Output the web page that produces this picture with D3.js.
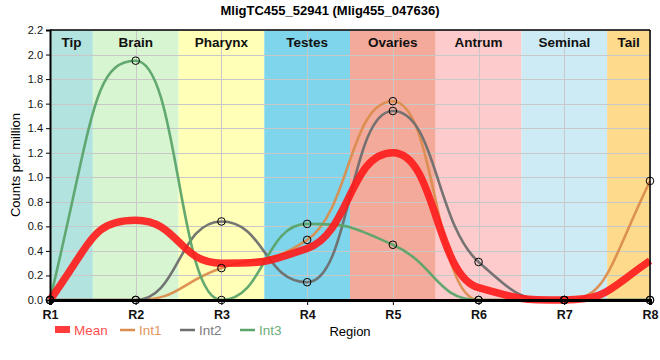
<!DOCTYPE html>
<html><head><meta charset="utf-8">
<script src="https://cdn.jsdelivr.net/npm/d3@7"></script>
<style>body{margin:0;background:#fff}svg{display:block}</style>
</head><body>
<svg id="c" width="660" height="360"></svg>
<script>
const regions = ["R1","R2","R3","R4","R5","R6","R7","R8"];
const bandNames = ["Tip","Brain","Pharynx","Testes","Ovaries","Antrum","Seminal","Tail"];
const bandColors = ["#b3e3df","#d7f5d0","#ffffb8","#7fd5ec","#f4aa9b","#fdcbcb","#cdebf5","#fdda8c"];
const meanVals = [0, 0.65, 0.30, 0.42, 1.20, 0.10, 0, 0.32];
const int1 = [0, 0, 0.26, 0.49, 1.62, 0, 0, 0.97];
const int2 = [0, 0, 0.64, 0.145, 1.54, 0.31, 0, 0];
const int3 = [0, 1.95, 0, 0.62, 0.45, 0, 0, 0];
const yTicks = [0,0.2,0.4,0.6,0.8,1.0,1.2,1.4,1.6,1.8,2.0,2.2];

// monotone cubic curve with wider control handles (flat plateaus at extrema)
function BroadMonotone(context){ this._context = context; }
BroadMonotone.prototype = {
  areaStart(){ this._line = 0; }, areaEnd(){ this._line = NaN; },
  lineStart(){ this._x = []; this._y = []; },
  point(x, y){ this._x.push(+x); this._y.push(+y); },
  lineEnd(){
    const X = this._x, Y = this._y, n = X.length, c = this._context;
    if (!n) return;
    if (this._line || this._line === 0 && n === 1) c.lineTo(X[0], Y[0]); else c.moveTo(X[0], Y[0]);
    if (n === 2) c.lineTo(X[1], Y[1]);
    if (n > 2) {
      const s = [], t = new Array(n);
      for (let i = 0; i < n - 1; i++) s.push((Y[i+1]-Y[i])/(X[i+1]-X[i]));
      for (let i = 1; i < n - 1; i++) {
        const h0 = X[i]-X[i-1], h1 = X[i+1]-X[i], s0 = s[i-1], s1 = s[i];
        if (s0*s1 <= 0) { t[i] = 0; continue; }
        const p = (s0*h1 + s1*h0)/(h0+h1);
        t[i] = (Math.sign(s0)+Math.sign(s1))*Math.min(Math.abs(s0), Math.abs(s1), 0.5*Math.abs(p));
      }
      t[0] = (3*s[0] - t[1])/2;
      t[n-1] = (3*s[n-2] - t[n-2])/2;
      const k = 0.5;
      for (let i = 0; i < n - 1; i++) {
        const dx = (X[i+1]-X[i])*k;
        c.bezierCurveTo(X[i]+dx, Y[i]+t[i]*dx, X[i+1]-dx, Y[i+1]-t[i+1]*dx, X[i+1], Y[i+1]);
      }
    }
    this._line = 1 - this._line;
  }
};
const curveBroad = ctx => new BroadMonotone(ctx);

const svg = d3.select("#c");
const L=50,R=650,T=30,B=300;
const x = d3.scalePoint().domain(regions).range([L,R]);
const xi = d3.scaleLinear().domain([0,regions.length-1]).range([L,R]);
const y = d3.scaleLinear().domain([0,2.2]).range([B,T]);
const font = "'Liberation Sans', Arial, sans-serif";

// bands
const bands = svg.append("g");
bandNames.forEach((n,i)=>{
  const x0 = Math.max(L, xi(i-0.5)), x1 = Math.min(R, xi(i+0.5));
  bands.append("rect").attr("x",x0).attr("y",T).attr("width",x1-x0).attr("height",B-T).attr("fill",bandColors[i]);
});
// grid
const grid = svg.append("g").attr("stroke","#c8c8c8").attr("stroke-width",1);
yTicks.forEach(t=>grid.append("line").attr("x1",L).attr("x2",R).attr("y1",Math.round(y(t))+0.5).attr("y2",Math.round(y(t))+0.5));
regions.forEach(r=>grid.append("line").attr("x1",Math.round(x(r))+0.5).attr("x2",Math.round(x(r))+0.5).attr("y1",T).attr("y2",B));
// band labels
bandNames.forEach((n,i)=>{
  const x0 = Math.max(L, xi(i-0.5)), x1 = Math.min(R, xi(i+0.5));
  svg.append("text").attr("x",(x0+x1)/2).attr("y",47).attr("text-anchor","middle")
    .attr("font-family",font).attr("font-weight","bold").attr("font-size",13.5).attr("fill","#111").text(n);
});

const line = d3.line().x((d,i)=>xi(i)).y(d=>y(d)).curve(curveBroad);
const series = [
  {name:"Int1", vals:int1, color:"#db8d4e"},
  {name:"Int2", vals:int2, color:"#6e6e6e"},
  {name:"Int3", vals:int3, color:"#5ba46a"}
];
series.forEach(s=>{
  svg.append("path").attr("d",line(s.vals)).attr("fill","none").attr("stroke",s.color).attr("stroke-width",2.6).attr("opacity",0.95);
});
svg.append("path").attr("d",line(meanVals)).attr("fill","none").attr("stroke","#ff1a1a").attr("stroke-width",7.5).attr("opacity",0.9);

// axes
const yAxis = d3.axisLeft(y).tickValues(yTicks).tickFormat(d3.format(".1f")).tickSize(4);
const gy = svg.append("g").attr("transform",`translate(${L},0)`).call(yAxis);
gy.select(".domain").attr("stroke","#000").attr("stroke-width",2);
gy.selectAll("text").attr("font-family",font).attr("font-size",11).attr("fill","#111");
const xAxis = d3.axisBottom(x).tickSize(5);
const gx = svg.append("g").attr("transform",`translate(0,${B})`).call(xAxis);
gx.select(".domain").attr("stroke","#000").attr("stroke-width",3);
gx.selectAll("text").attr("font-family",font).attr("font-size",12.5).attr("font-weight","bold").attr("fill","#111").attr("dy","0.9em");
// top/right frame
svg.append("line").attr("x1",L).attr("x2",R).attr("y1",T).attr("y2",T).attr("stroke","#000").attr("stroke-width",1.5);
svg.append("line").attr("x1",R).attr("x2",R).attr("y1",T).attr("y2",B).attr("stroke","#000").attr("stroke-width",1.5);

// circles
series.forEach(s=>{
  svg.append("g").selectAll("circle").data(s.vals).join("circle")
    .attr("cx",(d,i)=>xi(i)).attr("cy",d=>y(d)).attr("r",3.8)
    .attr("fill","none").attr("stroke","#000").attr("stroke-width",1);
});

// title & labels
svg.append("text").attr("x",330).attr("y",15).attr("text-anchor","middle").attr("font-family",font)
  .attr("font-weight","bold").attr("font-size",13).attr("fill","#000").text("MligTC455_52941 (Mlig455_047636)");
svg.append("text").attr("transform",`translate(20,${(T+B)/2}) rotate(-90)`).attr("text-anchor","middle")
  .attr("font-family",font).attr("font-size",13).attr("fill","#000").text("Counts per million");
svg.append("text").attr("x",(L+R)/2).attr("y",336).attr("text-anchor","middle")
  .attr("font-family",font).attr("font-size",13).attr("fill","#000").text("Region");

// legend
const leg = [
  {name:"Mean", color:"#ff3b3b", thick:true, x:55},
  {name:"Int1", color:"#db8d4e", x:120},
  {name:"Int2", color:"#6e6e6e", x:180},
  {name:"Int3", color:"#5ba46a", x:240}
];
leg.forEach(l=>{
  if(l.thick) svg.append("rect").attr("x",l.x).attr("y",326).attr("width",15).attr("height",7).attr("fill",l.color);
  else svg.append("line").attr("x1",l.x).attr("x2",l.x+15).attr("y1",330).attr("y2",330).attr("stroke",l.color).attr("stroke-width",2.5);
  svg.append("text").attr("x",l.x+19).attr("y",335).attr("font-family",font).attr("font-size",13.5).attr("fill",l.color).attr("opacity",0.9).text(l.name);
});
</script>
</body></html>
